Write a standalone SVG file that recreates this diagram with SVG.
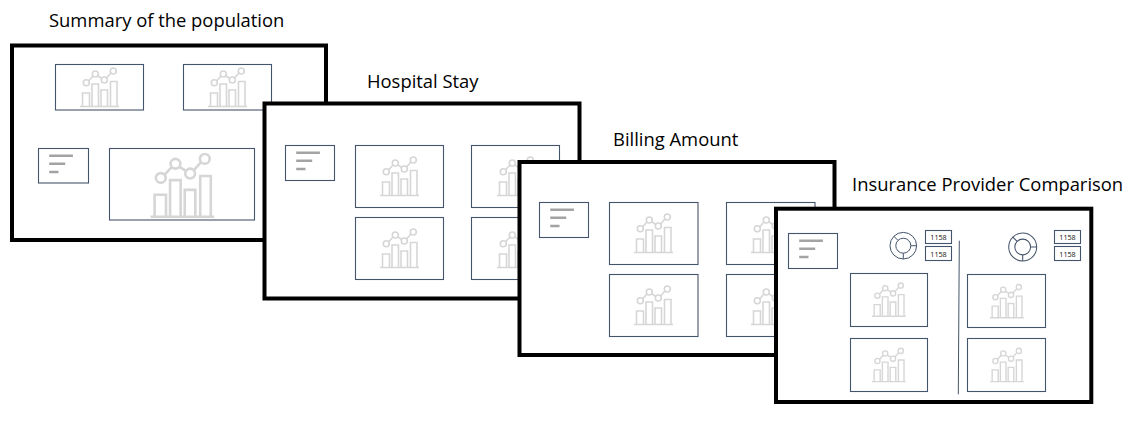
<svg xmlns="http://www.w3.org/2000/svg" width="1140" height="422" viewBox="0 0 1140 422">
<style>
.frame{fill:#fff;stroke:#000;stroke-width:4}
.box{fill:#fff;stroke:#44546a;stroke-width:1.1}
.title{font-family:"Open Sans","Noto Sans",sans-serif;font-size:18.4px;fill:#000}
.num{font-family:"Open Sans","Noto Sans",sans-serif;font-size:7.2px;fill:#111;text-anchor:middle}
.bar{fill:none;stroke:#d6d6d6;stroke-width:1.6}
.lines{stroke:#a3a3a3;stroke-width:2.6;fill:none}
.ring{fill:none;stroke:#44546a;stroke-width:1}
.div{stroke:#44546a;stroke-width:1;fill:none}
</style>
<defs>
<g id="chart">
<path class="bar" d="M0 38.500H39"/>
<path class="bar" d="M2.500 38V25H9.500V38M12 38V16H18.500V38M21 38V22H27.500V38M30.500 38V13.500H37V38"/>
<path class="bar" d="M8.700 12.700L13 8M18 8L22 10.500M26.500 10L31 5"/>
<circle class="bar" cx="6.300" cy="14.700" r="3"/>
<circle class="bar" cx="15.300" cy="6" r="3"/>
<circle class="bar" cx="24.300" cy="12" r="3"/>
<circle class="bar" cx="33.300" cy="3" r="3"/>
</g>
<g id="txt">
<path class="lines" d="M10.700 7.200H34.400M10.700 15.200H26.700M10.700 23.500H20"/>
</g>
<g id="donut">
<circle class="ring" r="13.300"/>
<circle class="ring" r="7.500"/>
<path class="ring" d="M0 7.500V13.300M7.500 0H13.300M-5.300 -5.300L-9.400 -9.400"/>
</g>
</defs>
<g id="connectors"/>
<text class="title" x="49" y="27">Summary of the population</text>
<text class="title" x="367" y="88">Hospital Stay</text>
<text class="title" x="613" y="146">Billing Amount</text>
<text class="title" x="852" y="191">Insurance Provider Comparison</text>
<g id="frame-summary">
<rect class="frame" x="12" y="45.500" width="314" height="194.500"/>
<rect class="box" x="55.500" y="64.500" width="88" height="45.500"/>
<use href="#chart" x="80" y="68"/>
<rect class="box" x="183.500" y="64.500" width="88" height="45.500"/>
<use href="#chart" x="208" y="68"/>
<rect class="box" x="38.500" y="148.500" width="50" height="34.500"/>
<use href="#txt" x="38.500" y="148.500"/>
<rect class="box" x="109.500" y="148.500" width="145" height="71.500"/>
<use href="#chart" transform="translate(150.500 154) scale(1.63)"/>
</g>
<g id="frame-hospital">
<rect class="frame" x="264.500" y="103.500" width="315" height="195"/>
<rect class="box" x="285.500" y="145.500" width="49" height="35"/>
<use href="#txt" x="285.500" y="145.500"/>
<rect class="box" x="355.500" y="145.500" width="88" height="62"/>
<use href="#chart" x="380" y="157"/>
<rect class="box" x="471.500" y="145.500" width="88" height="62"/>
<use href="#chart" x="497" y="157"/>
<rect class="box" x="355.500" y="217.500" width="88" height="62"/>
<use href="#chart" x="380" y="229"/>
<rect class="box" x="471.500" y="217.500" width="88" height="62"/>
<use href="#chart" x="497" y="229"/>
</g>
<g id="frame-billing">
<rect class="frame" x="519.500" y="162" width="315" height="193"/>
<rect class="box" x="539.500" y="202.500" width="49" height="35"/>
<use href="#txt" x="539.500" y="202.500"/>
<rect class="box" x="609.500" y="202.500" width="88.500" height="62"/>
<use href="#chart" x="634" y="214"/>
<rect class="box" x="726.500" y="202.500" width="88.500" height="62"/>
<use href="#chart" x="751" y="214"/>
<rect class="box" x="609.500" y="274.500" width="88.500" height="62"/>
<use href="#chart" x="634" y="286"/>
<rect class="box" x="726.500" y="274.500" width="88.500" height="62"/>
<use href="#chart" x="751" y="286"/>
</g>
<g id="frame-insurance">
<rect class="frame" x="776" y="208.700" width="315.300" height="193.300"/>
<rect class="box" x="788.500" y="233.500" width="49" height="35"/>
<use href="#txt" x="788.500" y="233.500"/>
<use href="#donut" x="903.300" y="245.700"/>
<use href="#donut" transform="translate(1022.700 247) scale(1.050)"/>
<rect class="box" x="925.500" y="230.500" width="26" height="13"/>
<text class="num" x="938.500" y="240">1158</text>
<rect class="box" x="925.500" y="246.500" width="26" height="14"/>
<text class="num" x="938.500" y="256.500">1158</text>
<rect class="box" x="1054.500" y="230.500" width="26" height="13"/>
<text class="num" x="1067.500" y="240">1158</text>
<rect class="box" x="1054.500" y="246.500" width="26" height="14"/>
<text class="num" x="1067.500" y="256.500">1158</text>
<path class="div" d="M959.300 240.700L958.300 394.300"/>
<rect class="box" x="850.500" y="273.500" width="77" height="53"/>
<use href="#chart" transform="translate(872 283) scale(.865)"/>
<rect class="box" x="850.500" y="338.500" width="77" height="53"/>
<use href="#chart" transform="translate(872 348.300) scale(.865)"/>
<rect class="box" x="967.500" y="274.500" width="78" height="53"/>
<use href="#chart" transform="translate(990 284.500) scale(.865)"/>
<rect class="box" x="967.500" y="338.500" width="78" height="53"/>
<use href="#chart" transform="translate(990 348.300) scale(.865)"/>
</g>
</svg>
